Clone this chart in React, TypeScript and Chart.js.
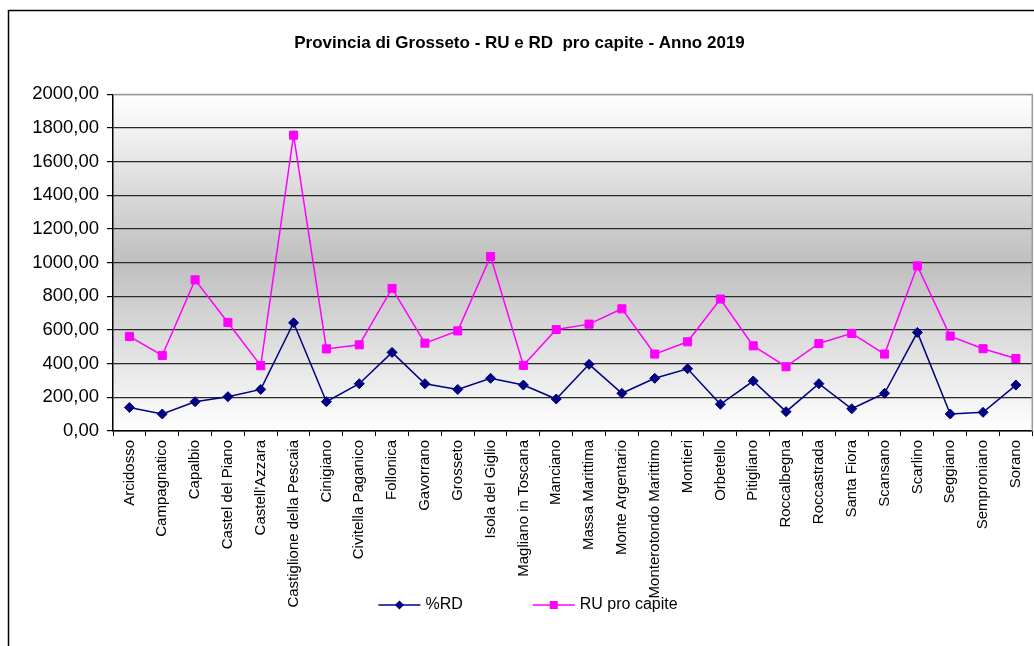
import React, { useEffect, useRef } from "react";
import { Chart, registerables } from "chart.js";

Chart.register(...registerables);

const comuni = [
  "Arcidosso", "Campagnatico", "Capalbio", "Castel del Piano", "Castell'Azzara",
  "Castiglione della Pescaia", "Cinigiano", "Civitella Paganico", "Follonica", "Gavorrano",
  "Grosseto", "Isola del Giglio", "Magliano in Toscana", "Manciano", "Massa Marittima",
  "Monte Argentario", "Monterotondo Marittimo", "Montieri", "Orbetello", "Pitigliano",
  "Roccalbegna", "Roccastrada", "Santa Fiora", "Scansano", "Scarlino",
  "Seggiano", "Semproniano", "Sorano",
];

const rdValues = [
  140, 101, 174, 204, 247, 643, 174, 281, 467, 281,
  247, 313, 273, 190, 396, 224, 313, 370, 159, 297,
  115, 281, 132, 224, 586, 101, 111, 273,
];

const ruValues = [
  562, 449, 898, 645, 388, 1758, 488, 512, 847, 522,
  595, 1037, 390, 603, 635, 726, 457, 530, 784, 506,
  382, 520, 580, 457, 981, 564, 489, 431,
];

const titleText = "Provincia di Grosseto - RU e RD  pro capite - Anno 2019";
const rdLabel = "%RD";
const ruLabel = "RU pro capite";
const yMin = 0;
const yMax = 2000;
const yStep = 200;

const FONT = "'Liberation Sans', Arial, sans-serif";
const CANVAS_W = 1039;
const CANVAS_H = 646;

const framePlugin = {
  id: "frameAndBackground",
  beforeDraw(chart: any) {
    const { ctx, chartArea, width, height } = chart;
    ctx.save();
    ctx.fillStyle = "#ffffff";
    ctx.fillRect(0, 0, width, height);
    ctx.strokeStyle = "#000000";
    ctx.lineWidth = 1.5;
    ctx.strokeRect(8.5, 10.5, width + 20, height + 20);
    const g = ctx.createLinearGradient(0, chartArea.top, 0, chartArea.bottom);
    g.addColorStop(0, "#ffffff");
    g.addColorStop(0.5, "#bfbfbf");
    g.addColorStop(1, "#ffffff");
    ctx.fillStyle = g;
    ctx.fillRect(chartArea.left, chartArea.top, chartArea.right - chartArea.left, chartArea.bottom - chartArea.top);
    ctx.restore();
  },
  afterDraw(chart: any) {
    const { ctx, chartArea } = chart;
    ctx.save();
    ctx.strokeStyle = "#9a9a9a";
    ctx.lineWidth = 1.5;
    ctx.beginPath();
    ctx.moveTo(chartArea.left, chartArea.top);
    ctx.lineTo(chartArea.right, chartArea.top);
    ctx.lineTo(chartArea.right, chartArea.bottom);
    ctx.stroke();

    // legend
    const lineLen = 42;
    const gapText = 5;
    const gapItems = 70;
    ctx.font = `16px ${FONT}`;
    const items = chart.data.datasets.map((ds: any) => ({
      ds,
      w: lineLen + gapText + ctx.measureText(ds.label).width,
    }));
    const total = items.reduce((s: number, it: any) => s + it.w, 0) + gapItems * (items.length - 1);
    let x = 528 - total / 2;
    const y = 605;
    items.forEach((it: any) => {
      const ds = it.ds;
      ctx.strokeStyle = ds.borderColor;
      ctx.lineWidth = ds.borderWidth;
      ctx.beginPath();
      ctx.moveTo(x, y);
      ctx.lineTo(x + lineLen, y);
      ctx.stroke();
      ctx.fillStyle = ds.pointBackgroundColor;
      ctx.strokeStyle = ds.pointBorderColor;
      ctx.lineWidth = 1;
      const r = ds.pointStyle === "rectRot" ? 4.5 : 4;
      ctx.beginPath();
      if (ds.pointStyle === "rectRot") {
        const cx = x + lineLen / 2;
        ctx.moveTo(cx, y - r);
        ctx.lineTo(cx + r, y);
        ctx.lineTo(cx, y + r);
        ctx.lineTo(cx - r, y);
        ctx.closePath();
      } else {
        ctx.rect(x + lineLen / 2 - r, y - r, 2 * r, 2 * r);
      }
      ctx.fill();
      ctx.fillStyle = "#000000";
      ctx.textBaseline = "middle";
      ctx.textAlign = "left";
      ctx.fillText(ds.label, x + lineLen + gapText, y);
      x += it.w + gapItems;
    });
    ctx.restore();
  },
};

export default function App() {
  const canvasRef = useRef<HTMLCanvasElement | null>(null);

  useEffect(() => {
    const canvas = canvasRef.current;
    if (!canvas) return;
    const chart = new Chart(canvas, {
      type: "line",
      data: {
        labels: comuni,
        datasets: [
          {
            label: rdLabel,
            data: rdValues,
            borderColor: "#000080",
            backgroundColor: "#000080",
            pointBackgroundColor: "#000080",
            pointBorderColor: "#000080",
            borderWidth: 1.5,
            pointStyle: "rectRot",
            pointRadius: 5,
            pointBorderWidth: 1,
            tension: 0,
          },
          {
            label: ruLabel,
            data: ruValues,
            borderColor: "#ff00ff",
            backgroundColor: "#ff00ff",
            pointBackgroundColor: "#ff00ff",
            pointBorderColor: "#ff00ff",
            borderWidth: 1.5,
            pointStyle: "rect",
            pointRadius: 5.7,
            pointBorderWidth: 1,
            tension: 0,
          },
        ],
      },
      options: {
        animation: false,
        responsive: false,
        maintainAspectRatio: false,
        layout: { padding: { left: 0, right: 0, top: 0, bottom: 0 } },
        plugins: {
          legend: { display: false },
          tooltip: { enabled: false },
          title: {
            display: true,
            text: titleText,
            color: "#000000",
            font: { family: FONT, size: 17, weight: "bold" },
            padding: { top: 33, bottom: 41 },
          },
        },
        scales: {
          x: {
            type: "category",
            offset: true,
            grid: {
              offset: true,
              drawOnChartArea: false,
              drawTicks: true,
              tickLength: 5,
              color: "#000000",
            },
            border: { color: "#000000", width: 1.5 },
            ticks: {
              autoSkip: false,
              minRotation: 90,
              maxRotation: 90,
              padding: 4,
              color: "#000000",
              font: { family: FONT, size: 15 },
            },
            afterFit(scale: any) {
              scale.height = 215;
            },
          },
          y: {
            min: yMin,
            max: yMax,
            ticks: {
              stepSize: yStep,
              color: "#000000",
              padding: 8,
              font: { family: FONT, size: 18.5 },
              callback: (v: any) => Number(v).toFixed(2).replace(".", ","),
            },
            grid: {
              color: (c: any) => (c.tick && c.tick.value === yMax ? "#9a9a9a" : "#2a2a2a"),
              lineWidth: 1.2,
              tickLength: 6,
              tickColor: "#000000",
            },
            border: { color: "#000000", width: 1.5 },
            afterFit(scale: any) {
              scale.width = 113;
            },
          },
        },
      },
      plugins: [framePlugin],
    });
    return () => chart.destroy();
  }, []);

  return (
    <div style={{ position: "absolute", left: 0, top: 0, width: 1034, height: 646, overflow: "hidden", background: "#fff" }}>
      <canvas ref={canvasRef} width={CANVAS_W} height={CANVAS_H} style={{ display: "block", width: CANVAS_W, height: CANVAS_H }} />
    </div>
  );
}
